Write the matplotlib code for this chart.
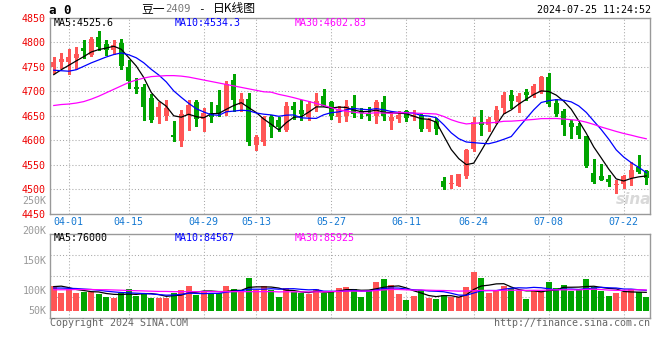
import numpy as np
import pandas as pd
import matplotlib
matplotlib.use("Agg")
import matplotlib.pyplot as plt

# date ticks (candle index -> label)
tick_idx = [2, 10, 20, 27, 37, 47, 56, 66, 76]
tick_labels = ["04-01", "04-15", "04-29", "05-13", "05-27", "06-11", "06-24", "07-08", "07-22"]

# daily candles, 03-28 .. 07-25
opens = [4749, 4759, 4760, 4768, 4788, 4774, 4811, 4797, 4784, 4799,
         4750, 4708, 4708, 4686, 4648, 4649, 4610, 4599, 4651, 4679,
         4643, 4656, 4672, 4660, 4724, 4672, 4684, 4590, 4597, 4648,
         4642, 4621, 4671, 4662, 4648, 4669, 4691, 4678, 4648, 4649,
         4671, 4659, 4654, 4649, 4678, 4639, 4644, 4659, 4647, 4651,
         4624, 4640, 4516, 4511, 4507, 4527, 4582, 4638, 4631, 4642,
         4665, 4693, 4678, 4699, 4693, 4699, 4730, 4677, 4659, 4636,
         4629, 4608, 4533, 4528, 4521, 4508, 4510, 4523, 4546, 4538]
highs = [4770, 4778, 4786, 4791, 4805, 4811, 4823, 4805, 4805, 4806,
         4764, 4727, 4714, 4695, 4678, 4682, 4639, 4661, 4683, 4683,
         4665, 4679, 4703, 4722, 4735, 4696, 4696, 4611, 4650, 4652,
         4648, 4679, 4678, 4683, 4680, 4696, 4705, 4680, 4669, 4682,
         4693, 4666, 4668, 4683, 4691, 4657, 4660, 4661, 4662, 4656,
         4646, 4645, 4525, 4529, 4532, 4582, 4647, 4661, 4648, 4669,
         4698, 4702, 4697, 4704, 4715, 4732, 4737, 4684, 4663, 4642,
         4636, 4609, 4561, 4552, 4529, 4519, 4529, 4555, 4570, 4540]
lows = [4738, 4748, 4735, 4746, 4768, 4772, 4785, 4775, 4776, 4745,
        4706, 4696, 4642, 4638, 4636, 4642, 4599, 4589, 4621, 4630,
        4619, 4638, 4650, 4651, 4660, 4660, 4590, 4580, 4590, 4606,
        4618, 4619, 4643, 4642, 4641, 4659, 4669, 4643, 4638, 4640,
        4648, 4646, 4641, 4635, 4641, 4624, 4637, 4640, 4641, 4620,
        4618, 4613, 4500, 4502, 4506, 4524, 4579, 4611, 4618, 4635,
        4656, 4666, 4657, 4682, 4688, 4697, 4671, 4650, 4611, 4605,
        4604, 4546, 4512, 4518, 4506, 4493, 4502, 4509, 4533, 4511]
closes = [4760, 4766, 4769, 4776, 4783, 4807, 4791, 4784, 4795, 4752,
          4722, 4705, 4667, 4642, 4668, 4666, 4607, 4653, 4672, 4643,
          4655, 4648, 4656, 4714, 4682, 4684, 4597, 4606, 4648, 4628,
          4627, 4671, 4661, 4654, 4675, 4680, 4671, 4649, 4664, 4671,
          4654, 4655, 4650, 4678, 4650, 4647, 4652, 4645, 4652, 4624,
          4641, 4623, 4505, 4513, 4531, 4580, 4638, 4632, 4643, 4662,
          4693, 4680, 4691, 4693, 4710, 4730, 4674, 4654, 4631, 4628,
          4611, 4548, 4514, 4519, 4514, 4511, 4527, 4540, 4535, 4523]
# volume in thousand lots
volumes = [103, 75, 90, 72, 79, 79, 69, 58, 54, 75,
           90, 61, 75, 54, 54, 54, 75, 86, 103, 65,
           79, 75, 75, 103, 90, 79, 137, 86, 103, 86,
           58, 93, 79, 75, 69, 90, 72, 83, 93, 100,
           90, 58, 86, 121, 132, 107, 69, 44, 61, 86,
           54, 47, 65, 58, 56, 100, 162, 137, 75, 83,
           104, 93, 83, 49, 83, 83, 121, 93, 107, 83,
           86, 132, 100, 83, 62, 75, 79, 90, 79, 58]

# moving-average values at the left edge (history before the first candle)
ma5_lead = [4734, 4744, 4753, 4762]
ma10_lead = [4743, 4742, 4741, 4744, 4751, 4758, 4764, 4770, 4775]
ma30_lead = [4671, 4673, 4674, 4676, 4679, 4684, 4690, 4697, 4704, 4711,
             4718, 4723, 4727, 4730, 4731, 4732, 4732, 4731, 4729, 4726,
             4723, 4720, 4717, 4714, 4711, 4708, 4705, 4702, 4699]
vma5_lead = [100, 102, 96, 88]
vma10_lead = [94, 94, 93, 92, 90, 88, 85, 81, 78]
vma30_lead = [87, 87, 87, 88, 88, 88, 87, 87, 86, 85,
              84, 83, 82, 81, 80, 80, 79, 79, 79, 79,
              79, 79, 79, 79, 79, 79, 79, 79, 79]

RED = "#ff5555"
GREEN = "#00a400"
GRID = "#a8a8a8"
BORDER = "#999999"
MONO = "DejaVu Sans Mono"
CJK = ["Noto Sans CJK SC", "DejaVu Sans"]
W, H = 660, 360

plt.rcParams["font.family"] = [MONO, "Noto Sans CJK SC"]
plt.rcParams["font.size"] = 7.2


def moving_avg(values, n, lead):
    out = pd.Series(values, dtype=float).rolling(n).mean().to_numpy()
    out[:n - 1] = lead
    return out


def box(l, t, r, b):
    return [l / W, 1 - b / H, (r - l) / W, (b - t) / H]


def put(x, y, s, **kw):
    kw.setdefault("va", "center")
    fig.text(x / W, 1 - y / H, s, **kw)


x = np.arange(len(closes))
o, h, l, c = (np.array(a, dtype=float) for a in (opens, highs, lows, closes))
colors = np.where(c >= o, RED, GREEN)

fig = plt.figure(figsize=(W / 100, H / 100), dpi=100)
fig.patch.set_facecolor("white")
ax = fig.add_axes(box(50, 17.8, 650, 213.8))
axv = fig.add_axes(box(50, 234.3, 650, 318.3))

for a in (ax, axv):
    a.set_xlim(-0.5, len(closes) - 0.5)
    for s in a.spines.values():
        s.set_color(BORDER)
        s.set_linewidth(1)
    a.set_xticks(tick_idx)
    a.grid(True, color=GRID, linestyle=(0, (1, 2)), linewidth=0.75)
    a.tick_params(length=0)
    a.set_axisbelow(True)

# price panel
ax.vlines(x, l, h, colors=colors, linewidth=1, antialiased=False)
ax.bar(x, np.maximum(np.abs(c - o), 2.0), bottom=np.minimum(o, c), width=0.68,
       color=colors, linewidth=0, antialiased=False)
ax.plot(x, moving_avg(closes, 5, ma5_lead), color="black", lw=0.9)
ax.plot(x, moving_avg(closes, 10, ma10_lead), color="#0000ff", lw=0.9)
ax.plot(x, moving_avg(closes, 30, ma30_lead), color="#ff00ff", lw=0.9)
ax.set_ylim(4450, 4850)
ax.set_yticks(np.arange(4450, 4851, 50))
ax.tick_params(axis="y", labelcolor="#ee0000", labelsize=7.2, pad=3)
ax.set_xticklabels(tick_labels)
ax.tick_params(axis="x", labelcolor="#1478d2", labelsize=7.2, pad=2.5)

# volume panel
axv.bar(x, volumes, width=0.74, color=colors, linewidth=0, antialiased=False)
axv.plot(x, moving_avg(volumes, 5, vma5_lead), color="black", lw=0.9)
axv.plot(x, moving_avg(volumes, 10, vma10_lead), color="#0000ff", lw=0.9)
axv.plot(x, moving_avg(volumes, 30, vma30_lead), color="#ff00ff", lw=0.9)
vlo, vhi = -32, 318
axv.set_ylim(vlo, vhi)
axv.set_yticks([vlo + (vhi - vlo) * f for f in (0.25, 0.5, 0.75)])
axv.set_yticklabels([])
axv.set_xticklabels([])

# header
put(49, 10.5, "a 0", fontsize=9, fontweight="bold", ha="left")
put(141, 8.5, "豆一", family=CJK, fontsize=8.5, ha="left")
put(165, 9.5, "2409", fontsize=7.6, color="#777777", ha="left")
put(198, 9.5, "-", fontsize=8, ha="left")
put(213, 8.5, "日K线图", family=CJK, fontsize=8.5, ha="left")
put(651, 10, "2024-07-25 11:24:52", ha="right")

put(54, 23.3, "MA5:4525.6", ha="left")
put(175, 23.3, "MA10:4534.3", ha="left", color="#0000ff")
put(295, 23.3, "MA30:4602.83", ha="left", color="#ff00ff")

put(54, 238.3, "MA5:76000", ha="left")
put(175, 238.3, "MA10:84567", ha="left", color="#0000ff")
put(295, 238.3, "MA30:85925", ha="left", color="#ff00ff")

# volume labels on the left
for ypix, lab in [(200.5, "250K"), (230.7, "200K"), (260.7, "150K"),
                  (290.7, "100K"), (310.7, "50K")]:
    put(46.5, ypix, lab, ha="right", color="#999999")

put(50, 323.3, "Copyright 2024 SINA.COM", ha="left", color="#666666")
put(650, 323.3, "http://finance.sina.com.cn", ha="right", color="#666666")
put(634, 200, "sina", ha="center", fontsize=11, fontstyle="italic",
    fontweight="bold", color="#d9d9d9", family="DejaVu Sans")

fig.savefig("out.png", dpi=100, facecolor="white")
